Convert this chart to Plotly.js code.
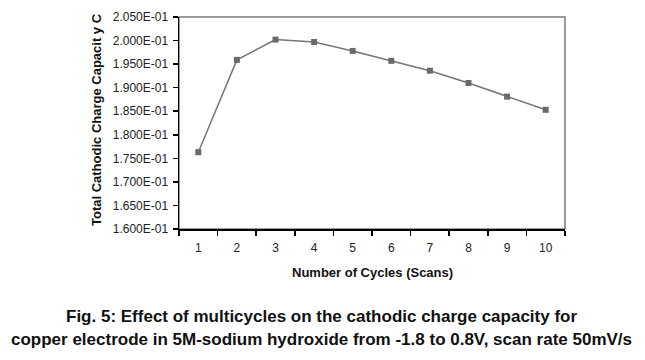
<!DOCTYPE html>
<html>
<head>
<meta charset="utf-8">
<script src="https://cdn.plot.ly/plotly-3.0.1.min.js"></script>
<style>html,body{margin:0;padding:0;background:#fff;}#chart{width:645px;height:360px;}</style>
</head>
<body>
<div id="chart"></div>
<script>
const cycles = ["1","2","3","4","5","6","7","8","9","10"];
const charge = [0.1763, 0.1959, 0.2002, 0.1997, 0.1978, 0.1957, 0.1936, 0.1910, 0.1881, 0.1853];
const yTickVals = [0.160,0.165,0.170,0.175,0.180,0.185,0.190,0.195,0.200,0.205];
const yTickText = ["1.600E-01","1.650E-01","1.700E-01","1.750E-01","1.800E-01","1.850E-01","1.900E-01","1.950E-01","2.000E-01","2.050E-01"];
const xTitle = "Number of Cycles (Scans)";
const yTitle = "Total Cathodic Charge Capacit y C";
const caption1 = "Fig. 5: Effect of multicycles on the cathodic charge capacity for";
const caption2 = "copper electrode in 5M-sodium hydroxide from -1.8 to 0.8V, scan rate 50mV/s";

const font = "Liberation Sans, Arial, sans-serif";

const trace = {
  x: cycles, y: charge, type: "scatter", mode: "lines+markers",
  line: {color: "#767676", width: 1.5},
  marker: {symbol: "square", size: 6, color: "#6a6a6a"},
  hoverinfo: "skip"
};

const layout = {
  width: 645, height: 360,
  margin: {l: 179, r: 80, t: 17, b: 131},
  paper_bgcolor: "#fff", plot_bgcolor: "#fff",
  showlegend: false,
  font: {family: font, color: "#111", size: 12},
  xaxis: {
    type: "category", tickson: "boundaries", range: [-0.5, 9.5],
    ticks: "outside", ticklen: 5, tickwidth: 1.5, tickcolor: "#000",
    ticklabelstandoff: 7,
    showline: true, linecolor: "#000", linewidth: 1.5,
    showgrid: false, zeroline: false,
    tickfont: {family: font, size: 12, color: "#222"}
  },
  yaxis: {
    range: [0.16, 0.205], tickvals: yTickVals, ticktext: yTickText,
    ticks: "outside", ticklen: 5, tickwidth: 1.5, tickcolor: "#000",
    ticklabelstandoff: 2,
    showline: true, linecolor: "#000", linewidth: 1.5,
    showgrid: false, zeroline: false,
    tickfont: {family: font, size: 12, color: "#222"}
  },
  shapes: [{
    type: "rect", xref: "paper", yref: "paper", x0: 0, x1: 1, y0: 0, y1: 1,
    line: {color: "#7a7a7a", width: 1.5}, layer: "below"
  }],
  annotations: [
    {text: "<b>" + xTitle + "</b>", xref: "paper", yref: "paper", x: 0.5, xanchor: "center",
     y: 0, yshift: -43, yanchor: "middle", showarrow: false,
     font: {family: font, size: 13, color: "#111"}},
    {text: "<b>" + yTitle + "</b>", xref: "paper", yref: "paper", x: 0, xshift: -83, xanchor: "center",
     y: 0.514, yanchor: "middle", textangle: -90, showarrow: false,
     font: {family: font, size: 13, color: "#111"}},
    {text: "<b>" + caption1 + "</b>", xref: "paper", yref: "paper", x: 0.368, xanchor: "center",
     y: 0, yshift: -87, yanchor: "middle", showarrow: false,
     font: {family: font, size: 17, color: "#111"}},
    {text: "<b>" + caption2 + "</b>", xref: "paper", yref: "paper", x: 0.368, xanchor: "center",
     y: 0, yshift: -110, yanchor: "middle", showarrow: false,
     font: {family: font, size: 17, color: "#111"}}
  ]
};

Plotly.newPlot("chart", [trace], layout, {staticPlot: true, displayModeBar: false});
</script>
</body>
</html>
